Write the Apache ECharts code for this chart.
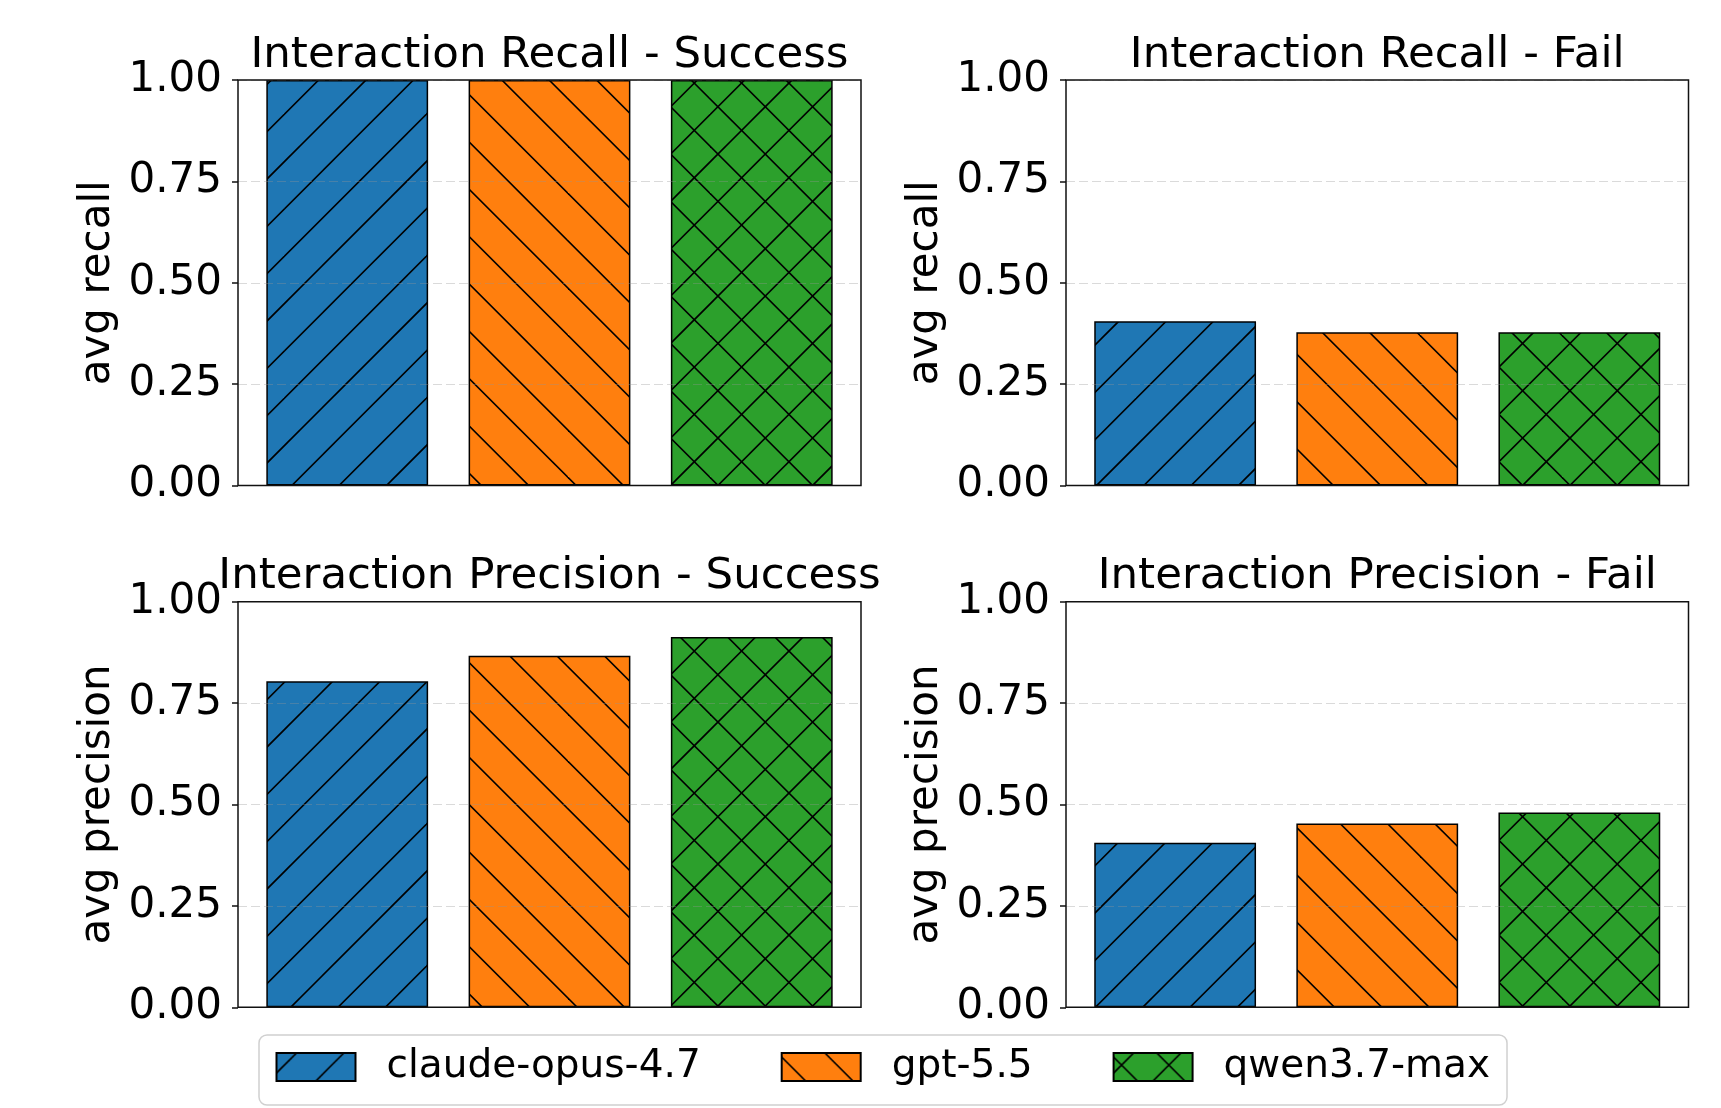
<!DOCTYPE html>
<html>
<head>
<meta charset="utf-8">
<title>Interaction recall / precision</title>
<script src="https://cdn.jsdelivr.net/npm/echarts@6/dist/echarts.min.js"></script>
<style>
  html, body { margin: 0; padding: 0; background: #ffffff; }
  #chart { width: 1721px; height: 1108px; }
</style>
</head>
<body>
<div id="chart"></div>
<script>
// ---- data ----
const models = ['claude-opus-4.7', 'gpt-5.5', 'qwen3.7-max'];
const panelTitles = [
  'Interaction Recall - Success',
  'Interaction Recall - Fail',
  'Interaction Precision - Success',
  'Interaction Precision - Fail'
];
const panelYNames = ['avg recall', 'avg recall', 'avg precision', 'avg precision'];
const recallSuccess = [1.0, 1.0, 1.0];
const recallFail = [0.405, 0.378, 0.378];
const precisionSuccess = [0.804, 0.867, 0.913];
const precisionFail = [0.406, 0.453, 0.480];
const yTickValues = [0, 0.25, 0.5, 0.75, 1.0];

const panelValues = [recallSuccess, recallFail, precisionSuccess, precisionFail];

// ---- styling ----
const FONT = 'DejaVu Sans';
const modelColors = ['#1f77b4', '#ff7f0e', '#2ca02c'];
const hatchKinds = ['/', '\\', 'x'];

// hatch tiles: 3 line periods per tile, anchored to the canvas origin
const HATCH_TILE = 142;
const HATCH_STEP = HATCH_TILE / 3;
function makeHatch(fill, kind) {
  const c = document.createElement('canvas');
  c.width = HATCH_TILE; c.height = HATCH_TILE;
  const ctx = c.getContext('2d');
  ctx.fillStyle = fill;
  ctx.fillRect(0, 0, HATCH_TILE, HATCH_TILE);
  ctx.strokeStyle = '#000000';
  ctx.lineWidth = 1.6;
  const T = HATCH_TILE;
  if (kind === '/' || kind === 'x') {
    // lines x + y = C
    for (let k = -4; k <= 10; k++) {
      const C = 20 + k * HATCH_STEP;
      ctx.beginPath();
      ctx.moveTo(C + 20, -20);
      ctx.lineTo(C - T - 20, T + 20);
      ctx.stroke();
    }
  }
  if (kind === '\\' || kind === 'x') {
    // lines x - y = C
    for (let k = -6; k <= 6; k++) {
      const C = 43.2 + k * HATCH_STEP;
      ctx.beginPath();
      ctx.moveTo(C - 20, -20);
      ctx.lineTo(C + T + 20, T + 20);
      ctx.stroke();
    }
  }
  return { image: c, repeat: 'repeat' };
}
const hatchFills = modelColors.map((col, i) => makeHatch(col, hatchKinds[i]));

// panel frames (px)
const gridBoxes = [
  { left: 238, top: 80, width: 623, height: 405.5 },
  { left: 1066, top: 80, width: 622.5, height: 405.5 },
  { left: 238, top: 601.7, width: 623, height: 405.6 },
  { left: 1066, top: 601.7, width: 622.5, height: 405.6 }
];
const titleTops = [34.5, 34.5, 555, 555];

const grids = gridBoxes.map(g => ({
  left: g.left, top: g.top, width: g.width, height: g.height,
  show: true, z: 10,
  backgroundColor: 'transparent',
  borderColor: '#111111', borderWidth: 1.5
}));

const xAxes = gridBoxes.map((g, i) => ({
  type: 'value', gridIndex: i, min: -0.54, max: 2.54, show: false,
  axisLine: { onZero: false }
}));

const yAxes = gridBoxes.map((g, i) => ({
  type: 'value', gridIndex: i, position: 'left',
  min: yTickValues[0], max: yTickValues[yTickValues.length - 1],
  interval: yTickValues[1] - yTickValues[0],
  z: 3,
  name: panelYNames[i], nameLocation: 'middle', nameGap: 119,
  nameTextStyle: { fontSize: 42, lineHeight: 42, color: '#000', fontFamily: FONT },
  axisLine: { show: false, onZero: false },
  axisTick: { show: true, inside: false, length: 6, lineStyle: { color: '#111', width: 1.5 } },
  axisLabel: {
    fontSize: 42, color: '#000', fontFamily: FONT, margin: 16,
    padding: [3, 0, 0, 0],
    formatter: v => v.toFixed(2)
  },
  splitLine: { show: true, lineStyle: { color: 'rgba(150,150,150,0.35)', width: 1, type: [9, 4] } }
}));

const series = [];
panelValues.forEach((vals, p) => {
  vals.forEach((v, m) => {
    series.push({
      type: 'bar', name: models[m],
      xAxisIndex: p, yAxisIndex: p,
      data: [[m, v]],
      barWidth: 161.8, barGap: '-100%',
      itemStyle: { color: hatchFills[m], borderColor: '#000000', borderWidth: 1.5 },
      emphasis: { disabled: true }
    });
  });
});

const titles = panelTitles.map((t, i) => ({
  text: t,
  left: gridBoxes[i].left + gridBoxes[i].width / 2,
  top: titleTops[i],
  textAlign: 'center',
  padding: 0,
  textStyle: { fontSize: 43.5, lineHeight: 43, fontWeight: 'normal', color: '#000', fontFamily: FONT }
}));

const chart = echarts.init(document.getElementById('chart'), null, { renderer: 'canvas', devicePixelRatio: 1 });
chart.setOption({
  animation: false,
  backgroundColor: '#ffffff',
  textStyle: { fontFamily: FONT },
  title: titles,
  grid: grids,
  xAxis: xAxes,
  yAxis: yAxes,
  legend: {
    data: models,
    left: 259, top: 1035,
    orient: 'horizontal',
    padding: [12, 17, 18, 16.5],
    itemWidth: 79, itemHeight: 28, itemGap: 80,
    icon: 'rect',
    borderColor: '#d0d0d0', borderWidth: 1.5, borderRadius: 8,
    backgroundColor: '#ffffff',
    selectedMode: false,
    textStyle: { fontSize: 39, lineHeight: 40, color: '#000', fontFamily: FONT, padding: [0, 0, 0, 26] }
  },
  series: series
});
</script>
</body>
</html>
